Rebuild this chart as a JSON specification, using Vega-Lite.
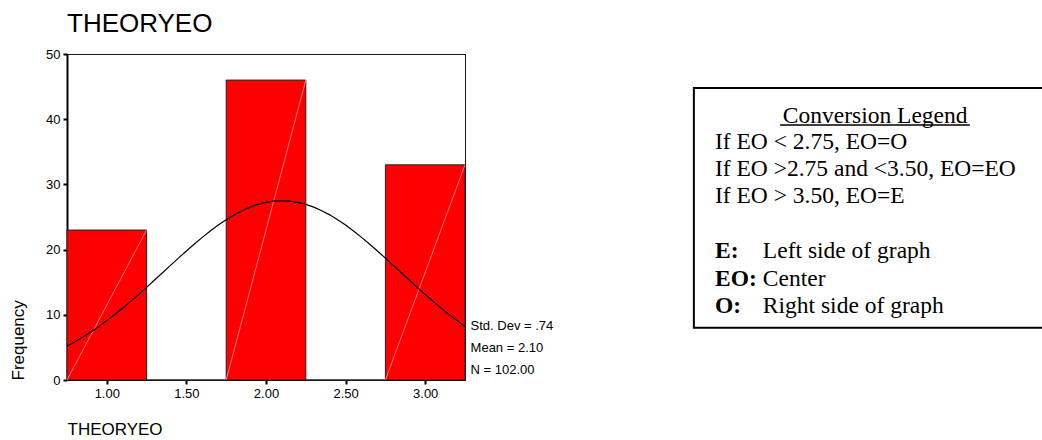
{
  "$schema": "https://vega.github.io/schema/vega-lite/v6.json",
  "background": "white",
  "padding": {"left": 9, "top": 10, "right": 0, "bottom": 0},
  "spacing": 136,
  "config": {
    "font": "Liberation Sans",
    "view": {"stroke": null},
    "axis": {
      "labelFont": "Liberation Sans",
      "titleFont": "Liberation Sans",
      "labelColor": "black",
      "titleColor": "black",
      "tickColor": "black",
      "domainColor": "black",
      "grid": false,
      "titleFontWeight": "normal"
    }
  },
  "datasets": {
    "bins": [
      {"bin_start": 0.75, "bin_end": 1.25, "count": 23},
      {"bin_start": 1.25, "bin_end": 1.75, "count": 0},
      {"bin_start": 1.75, "bin_end": 2.25, "count": 46},
      {"bin_start": 2.25, "bin_end": 2.75, "count": 0},
      {"bin_start": 2.75, "bin_end": 3.25, "count": 33}
    ],
    "normal_curve": [
      {"x": 0.75, "freq": 5.21}, {"x": 0.8, "freq": 5.88}, {"x": 0.85, "freq": 6.6},
      {"x": 0.9, "freq": 7.38}, {"x": 0.95, "freq": 8.22}, {"x": 1.0, "freq": 9.11},
      {"x": 1.05, "freq": 10.05}, {"x": 1.1, "freq": 11.03}, {"x": 1.15, "freq": 12.06},
      {"x": 1.2, "freq": 13.12}, {"x": 1.25, "freq": 14.21}, {"x": 1.3, "freq": 15.33},
      {"x": 1.35, "freq": 16.45}, {"x": 1.4, "freq": 17.58}, {"x": 1.45, "freq": 18.69},
      {"x": 1.5, "freq": 19.79}, {"x": 1.55, "freq": 20.86}, {"x": 1.6, "freq": 21.88},
      {"x": 1.65, "freq": 22.85}, {"x": 1.7, "freq": 23.76}, {"x": 1.75, "freq": 24.59},
      {"x": 1.8, "freq": 25.33}, {"x": 1.85, "freq": 25.97}, {"x": 1.9, "freq": 26.51},
      {"x": 1.95, "freq": 26.94}, {"x": 2.0, "freq": 27.24}, {"x": 2.05, "freq": 27.43},
      {"x": 2.1, "freq": 27.5}, {"x": 2.15, "freq": 27.43}, {"x": 2.2, "freq": 27.24},
      {"x": 2.25, "freq": 26.94}, {"x": 2.3, "freq": 26.51}, {"x": 2.35, "freq": 25.97},
      {"x": 2.4, "freq": 25.33}, {"x": 2.45, "freq": 24.59}, {"x": 2.5, "freq": 23.76},
      {"x": 2.55, "freq": 22.85}, {"x": 2.6, "freq": 21.88}, {"x": 2.65, "freq": 20.86},
      {"x": 2.7, "freq": 19.79}, {"x": 2.75, "freq": 18.69}, {"x": 2.8, "freq": 17.58},
      {"x": 2.85, "freq": 16.45}, {"x": 2.9, "freq": 15.33}, {"x": 2.95, "freq": 14.21},
      {"x": 3.0, "freq": 13.12}, {"x": 3.05, "freq": 12.06}, {"x": 3.1, "freq": 11.03},
      {"x": 3.15, "freq": 10.05}, {"x": 3.2, "freq": 9.11}, {"x": 3.25, "freq": 8.22}
    ]
  },
  "hconcat": [
    {
      "title": {
        "text": "THEORYEO",
        "anchor": "start",
        "frame": "group",
        "font": "Liberation Sans",
        "fontSize": 26,
        "fontWeight": "normal",
        "color": "black",
        "baseline": "alphabetic",
        "offset": -10
      },
      "width": 398,
      "height": 326,
      "view": {"stroke": "#1a1a1a", "strokeWidth": 1},
      "layer": [
        {
          "data": {"name": "bins"},
          "mark": {"type": "rect", "fill": "#ff0000", "stroke": "#222222", "strokeWidth": 1},
          "encoding": {
            "x": {
              "field": "bin_start",
              "type": "quantitative",
              "title": "THEORYEO",
              "scale": {"domain": [0.75, 3.25], "nice": false, "zero": false},
              "axis": {
                "values": [1, 1.5, 2, 2.5, 3],
                "format": ".2f",
                "tickSize": 4,
                "tickWidth": 2,
                "domainWidth": 1,
                "labelFontSize": 13,
                "labelPadding": 3,
                "titleFontSize": 17,
                "titleAnchor": "start",
                "titlePadding": 21
              }
            },
            "x2": {"field": "bin_end"},
            "y": {
              "field": "count",
              "type": "quantitative",
              "title": "Frequency",
              "scale": {"domain": [0, 50], "nice": false},
              "axis": {
                "values": [0, 10, 20, 30, 40, 50],
                "tickSize": 4,
                "tickWidth": 2,
                "domainWidth": 2,
                "labelFontSize": 13,
                "labelPadding": 3,
                "titleFontSize": 17,
                "titleAnchor": "start",
                "titlePadding": 18
              }
            },
            "y2": {"datum": 0}
          }
        },
        {
          "data": {"name": "bins"},
          "transform": [{"filter": "datum.count > 0"}],
          "mark": {"type": "rule", "color": "#ff9d9d", "strokeWidth": 0.8},
          "encoding": {
            "x": {"field": "bin_end", "type": "quantitative", "title": "THEORYEO"},
            "y": {"field": "count", "type": "quantitative", "title": "Frequency"},
            "x2": {"field": "bin_start"},
            "y2": {"datum": 0}
          }
        },
        {
          "data": {"name": "normal_curve"},
          "mark": {"type": "line", "color": "black", "strokeWidth": 1.2},
          "encoding": {
            "x": {"field": "x", "type": "quantitative", "title": "THEORYEO"},
            "y": {"field": "freq", "type": "quantitative", "title": "Frequency"}
          }
        },
        {
          "data": {"values": [{}]},
          "mark": {
            "type": "text",
            "text": ["Std. Dev = .74", "Mean = 2.10", "N = 102.00"],
            "align": "left",
            "baseline": "alphabetic",
            "font": "Liberation Sans",
            "fontSize": 13,
            "lineHeight": 22,
            "color": "black"
          },
          "encoding": {
            "x": {"datum": 3.285, "type": "quantitative", "title": "THEORYEO"},
            "y": {"datum": 7.6, "type": "quantitative", "title": "Frequency"}
          }
        }
      ]
    },
    {
      "width": 352,
      "height": 326,
      "view": {"stroke": null},
      "data": {"values": [{}]},
      "layer": [
        {
          "mark": {"type": "rect", "fill": "white", "stroke": "black", "strokeWidth": 2, "clip": true},
          "encoding": {
            "x": {"datum": 1.1, "type": "quantitative", "scale": {"domain": [0, 100], "nice": false}, "axis": null},
            "x2": {"datum": 101},
            "y": {"datum": 89.6, "type": "quantitative", "scale": {"domain": [0, 100], "nice": false}, "axis": null},
            "y2": {"datum": 16}
          }
        },
        {
          "mark": {
            "type": "text",
            "text": "Conversion Legend",
            "font": "Liberation Serif",
            "fontSize": 23.5,
            "align": "center",
            "baseline": "alphabetic",
            "color": "black"
          },
          "encoding": {"x": {"datum": 52.6, "type": "quantitative"}, "y": {"datum": 78.9, "type": "quantitative"}}
        },
        {
          "mark": {"type": "rule", "color": "black", "strokeWidth": 1.5},
          "encoding": {"x": {"datum": 25.6, "type": "quantitative"}, "x2": {"datum": 79.5}, "y": {"datum": 78.2, "type": "quantitative"}}
        },
        {
          "mark": {
            "type": "text",
            "text": ["If EO < 2.75, EO=O", "If EO >2.75 and <3.50, EO=EO", "If EO > 3.50, EO=E"],
            "font": "Liberation Serif",
            "fontSize": 23.5,
            "lineHeight": 27,
            "align": "left",
            "baseline": "alphabetic",
            "color": "black"
          },
          "encoding": {"x": {"datum": 7.1, "type": "quantitative"}, "y": {"datum": 70.9, "type": "quantitative"}}
        },
        {
          "mark": {
            "type": "text",
            "text": ["E:", "EO:", "O:"],
            "font": "Liberation Serif",
            "fontSize": 23.5,
            "fontWeight": "bold",
            "lineHeight": 27.5,
            "align": "left",
            "baseline": "alphabetic",
            "color": "black"
          },
          "encoding": {"x": {"datum": 7.1, "type": "quantitative"}, "y": {"datum": 37.4, "type": "quantitative"}}
        },
        {
          "mark": {
            "type": "text",
            "text": ["Left side of graph", "Center", "Right side of graph"],
            "font": "Liberation Serif",
            "fontSize": 23.5,
            "lineHeight": 27.5,
            "align": "left",
            "baseline": "alphabetic",
            "color": "black"
          },
          "encoding": {"x": {"datum": 20.7, "type": "quantitative"}, "y": {"datum": 37.4, "type": "quantitative"}}
        }
      ]
    }
  ]
}
